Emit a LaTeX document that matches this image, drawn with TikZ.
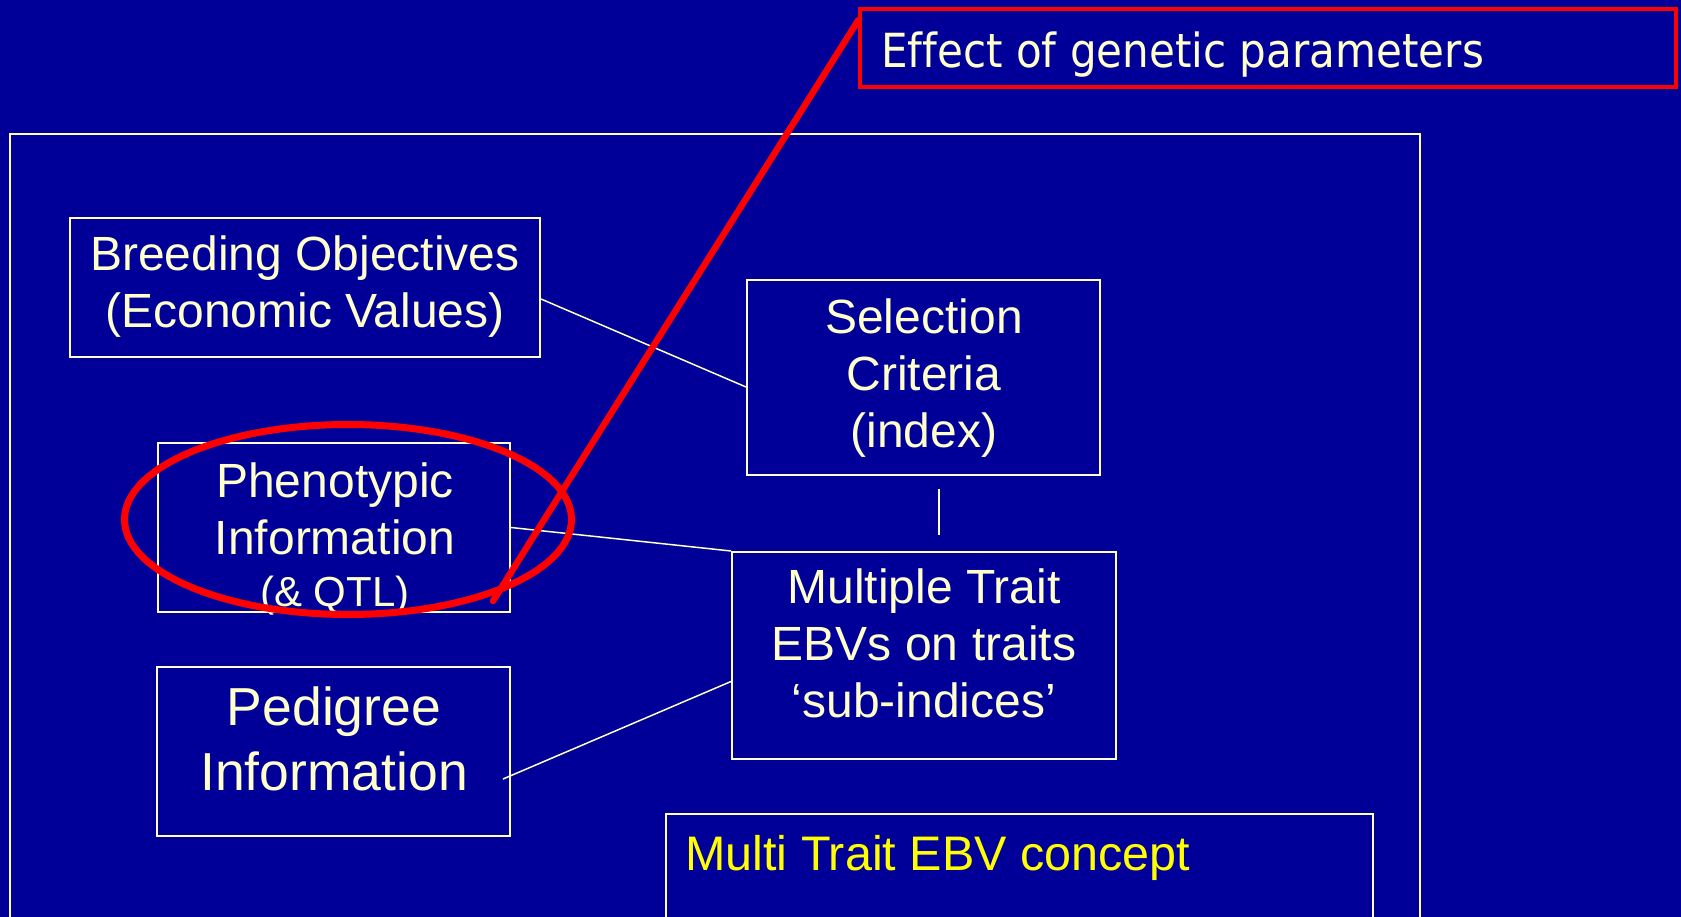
\documentclass[tikz,border=0pt]{standalone}
\usepackage{fontspec}
\setmainfont{Liberation Sans}
\newfontfamily\notefont[Ligatures=NoCommon]{DejaVu Sans}
\usetikzlibrary{shapes.geometric}

\definecolor{slide}{HTML}{000099}
\definecolor{cream}{HTML}{FFFFCC}
\definecolor{mark}{HTML}{FF0000}
\definecolor{headline}{HTML}{FFFF00}

% fixed line boxes so every text line has the same height
\newcommand\strutA{\rule[-16pt]{0pt}{57pt}}
\newcommand\strutB{\rule[-17.5pt]{0pt}{65pt}}
\newcommand\strutC{\rule[-16pt]{0pt}{55pt}}

\begin{document}
\begin{tikzpicture}[x=1pt, y=-1pt,
  box/.style={draw=cream, line width=2pt, inner sep=0pt},
  txt/.style={text=cream, inner sep=0pt, align=center, anchor=north,
              font=\fontsize{48}{57}\selectfont},
  link/.style={draw=cream, line width=1.5pt},
  redmark/.style={draw=mark, line width=6.5pt, line cap=round}]

\path[use as bounding box, fill=slide] (0,0) rectangle (1681,917);
\clip (0,0) rectangle (1681,917);

% outer frame, open at the bottom of the page
\draw[cream, line width=2pt] (10,940) |- (1420,134) -- (1420,940);

% boxes
\node[box, minimum width=470pt, minimum height=139pt] (bo) at (305,287.5) {};
\node[box, minimum width=353pt, minimum height=195pt] (sc) at (923.5,377.5) {};
\node[box, minimum width=352pt, minimum height=169pt] (ph) at (334,527.5) {};
\node[box, minimum width=353pt, minimum height=169pt] (pe) at (333.5,751.5) {};
\node[box, minimum width=384pt, minimum height=207pt] (mt) at (924,655.5) {};
\node[box, minimum width=707pt, minimum height=126pt] (concept) at (1019.5,877) {};

% box texts
\node[txt] (bo-text) at (305,229) {Breeding Objectives\strutA\\(Economic Values)\strutA};
\node[txt] (sc-text) at (924,292) {Selection\strutA\\Criteria\strutA\\(index)\strutA};
\node[txt] (ph-text) at (335,456)
  {Phenotypic\strutA\\Information\strutA\\[-5pt]\fontsize{42}{50}\selectfont(\& QTL)\strutC};
\node[txt, font=\fontsize{53.5}{65}\selectfont] (pe-text) at (334,677.5)
  {Pedigree\strutB\\Information\strutB};
\node[txt] (mt-text) at (924,562) {Multiple Trait\strutA\\EBVs on traits\strutA\\‘sub-indices’\strutA};
\node[anchor=base west, inner sep=0pt, text=headline, font=\fontsize{48.5}{58}\selectfont]
  (concept-text) at (685,870) {Multi Trait EBV concept};

% connectors
\draw[link] ([yshift=-11.5pt]bo.east) -- ([yshift=-9.5pt]sc.west);
\draw[link] ([xshift=15.5pt,yshift=-13pt]sc.south) -- ([xshift=15pt,yshift=16pt]mt.north);
\draw[link] (ph.east) -- (mt.north west);
\draw[link] ([xshift=-8pt,yshift=-27.5pt]pe.east) -- ([yshift=-26pt]mt.west);

% red annotation
\node[ellipse, draw=mark, line width=7pt, minimum width=447pt, minimum height=190pt,
      inner sep=0pt] (ring) at (348,519.5) {};
\node[draw=mark, line width=3.5pt, minimum width=816pt, minimum height=78pt,
      inner sep=0pt] (note) at (1268,48) {};
\node[anchor=base west, inner sep=0pt, text=cream, font=\notefont\fontsize{47}{56}\selectfont]
  (note-text) at (881,68) {\scalebox{0.895}[1]{Effect of genetic parameters}};
\coordinate (tail) at (493,601);
\draw[redmark] (tail) -- ([yshift=-13pt]note.north west);

\end{tikzpicture}
\end{document}
